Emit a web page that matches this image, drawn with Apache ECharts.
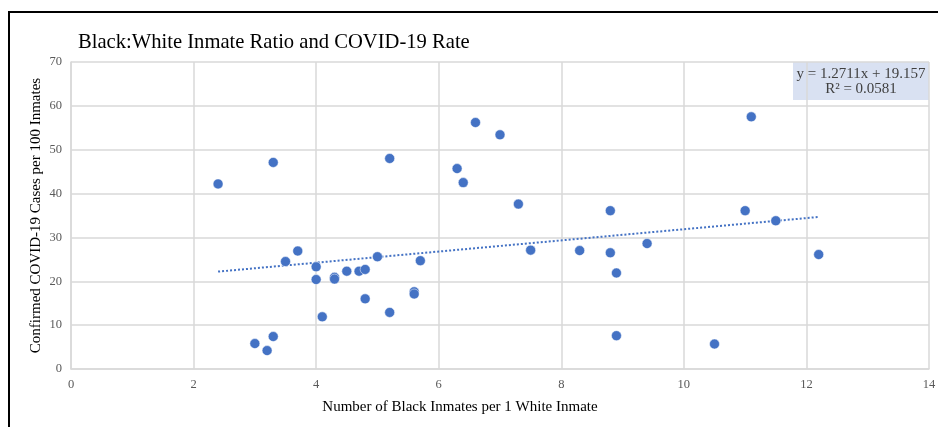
<!DOCTYPE html>
<html>
<head>
<meta charset="utf-8">
<script src="https://cdn.jsdelivr.net/npm/echarts@6/dist/echarts.min.js"></script>
<style>
  html, body { margin: 0; padding: 0; background: #fff; }
  #chart { width: 940px; height: 427px; }
</style>
</head>
<body>
<div id="chart"></div>
<script>
// Black-to-white inmate ratio per facility (x) and confirmed cases per 100 inmates (y)
const ratioBlackWhite = [
  2.4, 3.3, 5.2, 6.6, 6.3, 6.4, 3.7, 3.5, 4.0, 4.0,
  4.3, 4.3, 4.5, 4.7, 4.8, 5.0, 5.7, 5.6, 5.6, 4.8,
  5.2, 4.1, 3.3, 3.0, 3.2, 7.0, 7.3, 7.5, 8.3, 8.8,
  8.8, 8.9, 9.4, 8.9, 10.5, 11.1, 11.0, 11.5, 12.2
];
const casesPer100 = [
  42.2, 47.1, 48.0, 56.2, 45.7, 42.5, 26.9, 24.5, 23.3, 20.4,
  20.9, 20.5, 22.3, 22.3, 22.7, 25.6, 24.7, 17.6, 17.1, 16.0,
  12.9, 11.9, 7.4, 5.8, 4.2, 53.4, 37.6, 27.1, 27.0, 36.1,
  26.5, 21.9, 28.6, 7.6, 5.7, 57.5, 36.1, 33.8, 26.1
];

// Linear trendline as stated in the equation label
const trendSlope = 1.2711;
const trendIntercept = 19.157;
const trendR2 = 0.0581;

// Axis ranges and tick steps
const xMin = 0, xMax = 14, xStep = 2;
const yMin = 0, yMax = 70, yStep = 10;

const points = ratioBlackWhite.map((x, i) => [x, casesPer100[i]]);
const trendX0 = Math.min(...ratioBlackWhite);
const trendX1 = Math.max(...ratioBlackWhite);
const trendPoints = [
  [trendX0, trendSlope * trendX0 + trendIntercept],
  [trendX1, trendSlope * trendX1 + trendIntercept]
];

const serif = '"Liberation Serif", "Times New Roman", serif';
const blue = '#4472c4';
const gridColor = '#d9d9d9';
const labelColor = '#595959';

const chart = echarts.init(document.getElementById('chart'), null, { renderer: 'canvas' });

chart.setOption({
  animation: false,
  backgroundColor: '#ffffff',
  title: {
    text: 'Black:White Inmate Ratio and COVID-19 Rate',
    left: 78,
    top: 32,
    padding: 0,
    textStyle: { fontFamily: serif, fontSize: 20.6, fontWeight: 'normal', color: '#000000' }
  },
  grid: { left: 71, right: 11, top: 62, bottom: 58, containLabel: false },
  xAxis: {
    type: 'value',
    min: xMin, max: xMax, interval: xStep,
    name: 'Number of Black Inmates per 1 White Inmate',
    nameLocation: 'middle',
    nameGap: 31,
    nameMoveOverlap: false,
    nameTextStyle: { fontFamily: serif, fontSize: 15, color: '#000000', padding: [0, 80, 0, 0] },
    axisLine: { show: true, lineStyle: { color: gridColor, width: 1.5 } },
    axisTick: { show: false },
    axisLabel: { margin: 9, fontFamily: serif, fontSize: 12.5, color: labelColor },
    splitLine: { show: true, lineStyle: { color: gridColor, width: 1.5 } }
  },
  yAxis: {
    type: 'value',
    min: yMin, max: yMax, interval: yStep,
    name: 'Confirmed COVID-19 Cases per 100 Inmates',
    nameLocation: 'middle',
    nameGap: 27,
    nameMoveOverlap: false,
    nameTextStyle: { fontFamily: serif, fontSize: 15, color: '#000000' },
    axisLine: { show: true, lineStyle: { color: gridColor, width: 1.5 } },
    axisTick: { show: false },
    axisLabel: { margin: 9, fontFamily: serif, fontSize: 12.5, color: labelColor },
    splitLine: { show: true, lineStyle: { color: gridColor, width: 1.5 } }
  },
  series: [
    {
      type: 'line',
      data: trendPoints,
      showSymbol: false,
      symbol: 'none',
      lineStyle: { color: blue, width: 2, type: [2, 2] },
      silent: true,
      z: 2
    },
    {
      type: 'scatter',
      data: points,
      symbol: 'circle',
      symbolSize: 10,
      itemStyle: { color: blue, borderColor: '#ffffff', borderWidth: 0.5, opacity: 1 },
      z: 3
    }
  ],
  graphic: [
    {
      type: 'polyline',
      shape: { points: [[9, 427], [9, 12], [938, 12]] },
      style: { stroke: '#000000', lineWidth: 2, fill: null },
      z: 10
    },
    {
      type: 'group',
      right: 11,
      top: 62,
      children: [
        {
          type: 'rect',
          shape: { x: 0, y: 0, width: 136, height: 38 },
          style: { fill: '#d9e1f2' }
        },
        {
          type: 'text',
          x: 68, y: 12,
          style: {
            text: 'y = ' + trendSlope.toFixed(4) + 'x + ' + trendIntercept.toFixed(3),
            fontFamily: serif, fontSize: 15, fill: '#404040',
            align: 'center', verticalAlign: 'middle'
          }
        },
        {
          type: 'text',
          x: 68, y: 27,
          style: {
            text: 'R² = ' + trendR2.toFixed(4),
            fontFamily: serif, fontSize: 15, fill: '#404040',
            align: 'center', verticalAlign: 'middle'
          }
        }
      ],
      z: 5
    }
  ]
});
</script>
</body>
</html>
